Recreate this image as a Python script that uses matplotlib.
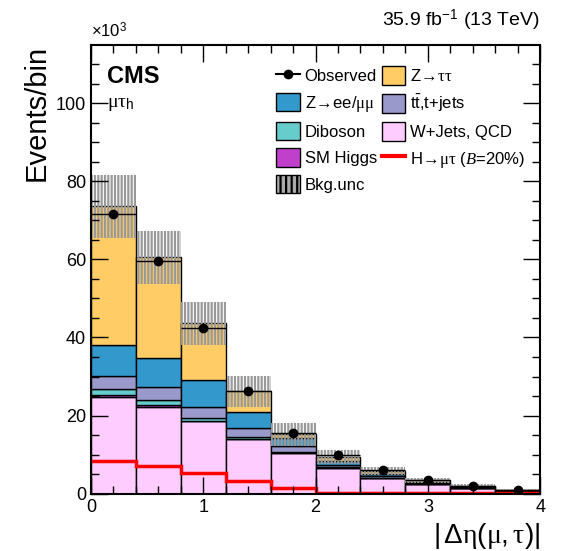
import numpy as np
import matplotlib
matplotlib.use("Agg")
import matplotlib.pyplot as plt
from matplotlib.patches import Patch
from matplotlib.lines import Line2D

plt.rcParams['font.family'] = ['Liberation Sans', 'DejaVu Sans']
plt.rcParams['mathtext.fontset'] = 'custom'
plt.rcParams['mathtext.rm'] = 'Liberation Sans'
plt.rcParams['mathtext.it'] = 'Liberation Serif'
plt.rcParams['mathtext.cal'] = 'Liberation Serif:italic'
plt.rcParams['hatch.color'] = '#999999'
plt.rcParams['hatch.linewidth'] = 1.6

edges = np.linspace(0, 4, 11)
# stacked components in units of 10^3 events
wjets = [24.8, 22.3, 18.5, 13.9, 10.3, 6.6, 4.0, 2.4, 1.4, 0.6]
higgs = [0.4, 0.3, 0.2, 0.15, 0.1, 0.05, 0.03, 0.02, 0.01, 0.01]
dibos = [1.5, 1.3, 0.8, 0.55, 0.3, 0.15, 0.1, 0.05, 0.03, 0.02]
ttbar = [3.4, 3.3, 2.8, 2.3, 1.5, 0.6, 0.4, 0.2, 0.1, 0.05]
dy = [8.1, 7.5, 6.7, 4.1, 2.0, 1.1, 0.6, 0.3, 0.15, 0.1]
ztt = [35.4, 25.8, 14.6, 5.2, 1.0, 1.0, 0.7, 0.45, 0.3, 0.15]
unc = [8.0, 6.7, 5.4, 3.9, 3.0, 1.8, 1.1, 0.7, 0.4, 0.3]
observed = [71.5, 59.5, 42.4, 26.3, 15.5, 9.8, 6.0, 3.6, 2.0, 1.0]
signal = [8.5, 7.2, 5.3, 3.2, 1.5, 0.3, 0.1, 0.1, 0.1, 0.1]

comps = [(wjets, '#FFCCFF'), (higgs, '#C040CC'), (dibos, '#66CCCC'),
         (ttbar, '#9999CC'), (dy, '#3399CC'), (ztt, '#FFCC66')]

fig = plt.figure(figsize=(5.68, 5.51), dpi=100)
ax = fig.add_axes([0.160, 0.104, 0.791, 0.815])

bottom = np.zeros(10)
for vals, col in comps:
    ax.bar(edges[:-1], vals, width=0.4, bottom=bottom, align='edge', color=col,
           edgecolor='black', linewidth=1.0)
    bottom = bottom + np.array(vals)
total = bottom
unc = np.array(unc)
ax.bar(edges[:-1], 2 * unc, width=0.4, bottom=total - unc, align='edge',
       facecolor='none', edgecolor='#999999', hatch='|||||', linewidth=0)

ax.stairs(signal, edges, color='red', linewidth=2.5, baseline=None)
centers = 0.5 * (edges[1:] + edges[:-1])
ax.errorbar(centers, observed, xerr=0.2, fmt='o', color='black', ms=6, lw=1)

ax.set_xlim(0, 4)
ax.set_ylim(0, 115)
ax.set_xticks([0, 1, 2, 3, 4])
ax.set_xticks(np.arange(0, 4.01, 0.2), minor=True)
ax.set_yticks(np.arange(0, 101, 20))
ax.set_yticks(np.arange(0, 115, 5), minor=True)
ax.tick_params(which='both', direction='in', top=True, right=True, labelsize=13)
ax.tick_params(which='major', length=12, width=1)
ax.tick_params(which='minor', length=6, width=1)
for s in ax.spines.values():
    s.set_linewidth(1.5)
ax.set_xlabel(r'$|\,\Delta\eta(\mu,\tau)|$', fontsize=20, loc='right')
ax.set_ylabel('Events/bin', fontsize=21, loc='top')
ax.text(0, 1.01, r'$\times$10$^3$', transform=ax.transAxes, fontsize=12, va='bottom')
ax.text(1, 1.025, r'35.9 fb$^{-1}$ (13 TeV)', transform=ax.transAxes, fontsize=14,
        ha='right', va='bottom')
ax.text(0.035, 0.955, 'CMS', transform=ax.transAxes, fontsize=17, fontweight='bold', va='top')
ax.text(0.035, 0.885, r'$\mu\tau_{\rm h}$', transform=ax.transAxes, fontsize=14, va='top')

handles = [
    Line2D([], [], marker='o', color='black', ms=6, label='Observed'),
    Patch(facecolor='#3399CC', edgecolor='black', label=r'Z$\!\rightarrow\!$ee/$\mu\mu$'),
    Patch(facecolor='#66CCCC', edgecolor='black', label='Diboson'),
    Patch(facecolor='#C040CC', edgecolor='black', label='SM Higgs'),
    Patch(facecolor='#AAAAAA', edgecolor='black', hatch='|||', label='Bkg.unc'),
    Patch(facecolor='#FFCC66', edgecolor='black', label=r'Z$\!\rightarrow\!\tau\tau$'),
    Patch(facecolor='#9999CC', edgecolor='black', label=r't$\bar{\rm t}$,t+jets'),
    Patch(facecolor='#FFCCFF', edgecolor='black', label='W+Jets, QCD'),
    Line2D([], [], color='red', lw=3, label=r'H$\!\rightarrow\!\mu\tau$ ($\mathcal{B}$=20%)'),
]
ax.legend(handles=handles, ncol=2, loc='upper right', bbox_to_anchor=(1.0, 0.985),
          frameon=False, fontsize=12, handlelength=1.4, handleheight=1.3,
          columnspacing=0.3, handletextpad=0.3, labelspacing=0.5)

fig.savefig('out.png', dpi=100)
